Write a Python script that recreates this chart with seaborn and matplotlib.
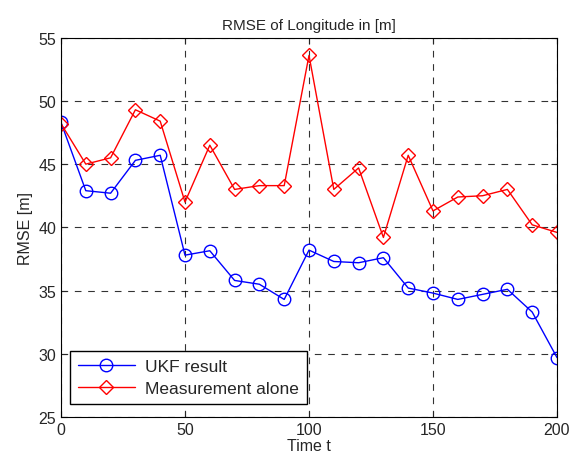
import matplotlib
matplotlib.use('Agg')
import matplotlib.pyplot as plt
import seaborn as sns
import pandas as pd

# ~~~~~~~~~  Data  ~~~~~~~~~ #
time_t = [0, 10, 20, 30, 40, 50, 60, 70, 80, 90, 100,
          110, 120, 130, 140, 150, 160, 170, 180, 190, 200]
ukf_rmse = [48.3, 42.9, 42.7, 45.3, 45.7, 37.8, 38.15, 35.8, 35.5, 34.3, 38.2,
            37.3, 37.2, 37.6, 35.2, 34.8, 34.3, 34.7, 35.1, 33.3, 29.7]
meas_rmse = [48.2, 45.0, 45.5, 49.3, 48.4, 42.0, 46.5, 43.0, 43.3, 43.3, 53.6,
             43.0, 44.7, 39.2, 45.7, 41.3, 42.4, 42.5, 43.0, 40.2, 39.6]
series_names = ['UKF result', 'Measurement alone']
x_ticks = [0, 50, 100, 150, 200]
y_ticks = [25, 30, 35, 40, 45, 50, 55]

df = pd.DataFrame({
    't': time_t * 2,
    'rmse': ukf_rmse + meas_rmse,
    'series': [series_names[0]] * len(time_t) + [series_names[1]] * len(time_t),
})

# ~~~~~~~~~  Plot  ~~~~~~~~~ #
sns.set_style('white')
plt.rcParams['font.family'] = ['Liberation Sans', 'DejaVu Sans']
plt.rcParams['font.size'] = 11

fig = plt.figure(figsize=(5.72, 4.64), dpi=100)
ax = fig.add_axes([61 / 572, 1 - 418 / 464, (557 - 61) / 572, (418 - 38.7) / 464])

sns.lineplot(data=df, x='t', y='rmse', hue='series', style='series',
             palette=['blue', 'red'], markers=['o', 'D'], dashes=False,
             linewidth=1, legend=False, ax=ax)
# open markers like the matlab original
for line, ms in zip(ax.lines, [9, 7.5]):
    line.set_markersize(ms)
    line.set_markerfacecolor('none')
    line.set_markeredgecolor(line.get_color())
    line.set_markeredgewidth(1)

ax.set_xlim(0, 200)
ax.set_ylim(25, 55)
ax.set_xticks(x_ticks)
ax.set_yticks(y_ticks)
ax.grid(True, color='black', linestyle=(0, (6, 6)), linewidth=0.8, alpha=0.8)
ax.tick_params(direction='in', length=4, width=0.8, labelsize=11.5,
               top=True, right=True, bottom=True, left=True)
for spine in ax.spines.values():
    spine.set_color('black')
    spine.set_linewidth(0.8)

ax.set_title('RMSE of Longitude in [m]', fontsize=11)
ax.set_xlabel('Time t', fontsize=11.5, labelpad=1)
ax.set_ylabel('RMSE [m]', fontsize=11.5)

leg = ax.legend(ax.lines[:2], series_names, loc='lower left',
                bbox_to_anchor=(0.018, 0.034), borderaxespad=0,
                fontsize=12.5, frameon=True, fancybox=False, framealpha=1,
                edgecolor='black', handlelength=3.3, borderpad=0.45,
                labelspacing=0.4, handletextpad=0.6)
leg.get_frame().set_linewidth(1)

fig.savefig('out.png', dpi=100)
